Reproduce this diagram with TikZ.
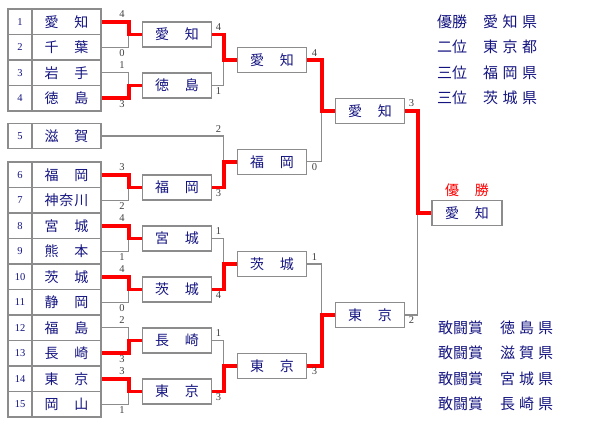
\documentclass[tikz,border=0pt]{standalone}
\usepackage{fontspec}
\setmainfont{Liberation Serif}
\newfontfamily\jp{Noto Sans CJK JP}
\usetikzlibrary{calc,positioning}
\definecolor{navy}{RGB}{20,20,128}
\definecolor{frame}{RGB}{140,140,140}
\newcommand\spread[1]{\makebox[44pt][s]{#1}}

\begin{document}
\begin{tikzpicture}[x=1pt, y=-1pt, line join=miter,
    numcell/.style={draw=frame, line width=1.3pt, minimum width=24pt, minimum height=25.5pt, inner sep=0pt, text=navy, font=\fontsize{10.5}{10.5}\selectfont},
    namecell/.style={draw=frame, line width=1.3pt, minimum width=69pt, minimum height=25.5pt, inner sep=0pt, text=navy, font=\jp\fontsize{14}{14}\selectfont},
    team/.style={namecell, minimum width=68.5pt, minimum height=25pt},
    gline/.style={draw=frame, line width=1.2pt},
    rline/.style={draw=red, line width=3.8pt},
    score/.style={inner sep=0pt, text=black!75, font=\fontsize{10.5}{10.5}\selectfont},
    award/.style={anchor=west, inner sep=0pt, text=navy, font=\jp\fontsize{15}{15}\selectfont}]
    \useasboundingbox (0,0) rectangle (600,440);

    \node[numcell] (n1) at (20,21.75) {1};
    \node[namecell] (t1) at (66.5,21.75) {\spread{愛\hfill 知}};
    \node[numcell] (n2) at (20,47.25) {2};
    \node[namecell] (t2) at (66.5,47.25) {\spread{千\hfill 葉}};
    \node[numcell] (n3) at (20,72.75) {3};
    \node[namecell] (t3) at (66.5,72.75) {\spread{岩\hfill 手}};
    \node[numcell] (n4) at (20,98.25) {4};
    \node[namecell] (t4) at (66.5,98.25) {\spread{徳\hfill 島}};
    \node[numcell] (n5) at (20,136) {5};
    \node[namecell] (t5) at (66.5,136) {\spread{滋\hfill 賀}};
    \node[numcell] (n6) at (20,174.75) {6};
    \node[namecell] (t6) at (66.5,174.75) {\spread{福\hfill 岡}};
    \node[numcell] (n7) at (20,200.25) {7};
    \node[namecell] (t7) at (66.5,200.25) {\spread{神\hfill 奈\hfill 川}};
    \node[numcell] (n8) at (20,225.75) {8};
    \node[namecell] (t8) at (66.5,225.75) {\spread{宮\hfill 城}};
    \node[numcell] (n9) at (20,251.25) {9};
    \node[namecell] (t9) at (66.5,251.25) {\spread{熊\hfill 本}};
    \node[numcell] (n10) at (20,276.75) {10};
    \node[namecell] (t10) at (66.5,276.75) {\spread{茨\hfill 城}};
    \node[numcell] (n11) at (20,302.25) {11};
    \node[namecell] (t11) at (66.5,302.25) {\spread{静\hfill 岡}};
    \node[numcell] (n12) at (20,327.75) {12};
    \node[namecell] (t12) at (66.5,327.75) {\spread{福\hfill 島}};
    \node[numcell] (n13) at (20,353.25) {13};
    \node[namecell] (t13) at (66.5,353.25) {\spread{長\hfill 崎}};
    \node[numcell] (n14) at (20,378.75) {14};
    \node[namecell] (t14) at (66.5,378.75) {\spread{東\hfill 京}};
    \node[numcell] (n15) at (20,404.25) {15};
    \node[namecell] (t15) at (66.5,404.25) {\spread{岡\hfill 山}};

    \node[team] (a1) at (177,34.5) {\spread{愛\hfill 知}};
    \node[team] (a2) at (177,85.5) {\spread{徳\hfill 島}};
    \node[team] (a3) at (177,187.5) {\spread{福\hfill 岡}};
    \node[team] (a4) at (177,238.5) {\spread{宮\hfill 城}};
    \node[team] (a5) at (177,289.5) {\spread{茨\hfill 城}};
    \node[team] (a6) at (177,340.5) {\spread{長\hfill 崎}};
    \node[team] (a7) at (177,391.5) {\spread{東\hfill 京}};
    \node[team] (b1) at (272,60) {\spread{愛\hfill 知}};
    \node[team] (b2) at (272,161.75) {\spread{福\hfill 岡}};
    \node[team] (b3) at (272,264) {\spread{茨\hfill 城}};
    \node[team] (b4) at (272,366) {\spread{東\hfill 京}};
    \node[team] (c1) at (370,110.9) {\spread{愛\hfill 知}};
    \node[team] (c2) at (370,315) {\spread{東\hfill 京}};
    \node[team, minimum width=70pt] (w) at (467,212.9) {\spread{愛\hfill 知}};
    \node[above=2.5pt of w, inner sep=0pt, text=red, font=\jp\fontsize{14}{14}\selectfont] (champ) {\spread{優\hfill 勝}};

    \coordinate (va1) at ([xshift=-13.5pt]a1.west);
    \coordinate (va2) at ([xshift=-13.5pt]a2.west);
    \coordinate (va3) at ([xshift=-13.5pt]a3.west);
    \coordinate (va4) at ([xshift=-13.5pt]a4.west);
    \coordinate (va5) at ([xshift=-13.5pt]a5.west);
    \coordinate (va6) at ([xshift=-13.5pt]a6.west);
    \coordinate (va7) at ([xshift=-13.5pt]a7.west);
    \coordinate (vb1) at ([xshift=-13.5pt]b1.west);
    \coordinate (vb2) at ([xshift=-13.5pt]b2.west);
    \coordinate (vb3) at ([xshift=-13.5pt]b3.west);
    \coordinate (vb4) at ([xshift=-13.5pt]b4.west);
    \coordinate (vc1) at ([xshift=-13.5pt]c1.west);
    \coordinate (vc2) at ([xshift=-13.5pt]c2.west);
    \coordinate (vw) at ([xshift=-13.5pt]w.west);

    \draw[gline] (t1.east) -| (va1) |- (t2.east) (va1) -- (a1.west);
    \draw[rline] (t1.east) -| (va1) -- (a1.west);
    \draw[gline] (t3.east) -| (va2) |- (t4.east) (va2) -- (a2.west);
    \draw[rline] (t4.east) -| (va2) -- (a2.west);
    \draw[gline] (t6.east) -| (va3) |- (t7.east) (va3) -- (a3.west);
    \draw[rline] (t6.east) -| (va3) -- (a3.west);
    \draw[gline] (t8.east) -| (va4) |- (t9.east) (va4) -- (a4.west);
    \draw[rline] (t8.east) -| (va4) -- (a4.west);
    \draw[gline] (t10.east) -| (va5) |- (t11.east) (va5) -- (a5.west);
    \draw[rline] (t10.east) -| (va5) -- (a5.west);
    \draw[gline] (t12.east) -| (va6) |- (t13.east) (va6) -- (a6.west);
    \draw[rline] (t13.east) -| (va6) -- (a6.west);
    \draw[gline] (t14.east) -| (va7) |- (t15.east) (va7) -- (a7.west);
    \draw[rline] (t14.east) -| (va7) -- (a7.west);

    \draw[gline] (a1.east) -| (vb1) |- (a2.east) (vb1) -- (b1.west);
    \draw[rline] (a1.east) -| (vb1) -- (b1.west);
    \draw[gline] (t5.east) -| (vb2) |- (a3.east) (vb2) -- (b2.west);
    \draw[rline] (a3.east) -| (vb2) -- (b2.west);
    \draw[gline] (a4.east) -| (vb3) |- (a5.east) (vb3) -- (b3.west);
    \draw[rline] (a5.east) -| (vb3) -- (b3.west);
    \draw[gline] (a6.east) -| (vb4) |- (a7.east) (vb4) -- (b4.west);
    \draw[rline] (a7.east) -| (vb4) -- (b4.west);

    \draw[gline] (b1.east) -| (vc1) |- (b2.east) (vc1) -- (c1.west);
    \draw[rline] (b1.east) -| (vc1) -- (c1.west);
    \draw[gline] (b3.east) -| (vc2) |- (b4.east) (vc2) -- (c2.west);
    \draw[rline] (b4.east) -| (vc2) -- (c2.west);

    \draw[gline] (c1.east) -| (vw) |- (c2.east) (vw) -- (w.west);
    \draw[rline] (c1.east) -| (vw) -- (w.west);

    \node[score] (s1) at (122,14.25) {4};
    \node[score] (s2) at (122,53) {0};
    \node[score] (s3) at (122,65.5) {1};
    \node[score] (s4) at (122,104.5) {3};
    \node[score] (s6) at (122,167.25) {3};
    \node[score] (s7) at (122,206) {2};
    \node[score] (s8) at (122,218.25) {4};
    \node[score] (s9) at (122,257) {1};
    \node[score] (s10) at (122,269.25) {4};
    \node[score] (s11) at (122,308) {0};
    \node[score] (s12) at (122,320.5) {2};
    \node[score] (s13) at (122,359.5) {3};
    \node[score] (s14) at (122,371.25) {3};
    \node[score] (s15) at (122,410) {1};

    \node[score] (sa1) at (218.5,27.5) {4};
    \node[score] (sa2) at (218.5,91) {1};
    \node[score] (sa5) at (218.5,129) {2};
    \node[score] (sa3) at (218.5,193) {3};
    \node[score] (sa4) at (218.5,231.5) {1};
    \node[score] (sa55) at (218.5,295) {4};
    \node[score] (sa6) at (218.5,333.5) {1};
    \node[score] (sa7) at (218.5,397) {3};

    \node[score] (sb1) at (314.5,53) {4};
    \node[score] (sb2) at (314.5,167) {0};
    \node[score] (sb3) at (314.5,257) {1};
    \node[score] (sb4) at (314.5,371.5) {3};

    \node[score] (sc1) at (411.5,103.5) {3};
    \node[score] (sc2) at (411.5,320.5) {2};

    \node[award] (p1) at (437,21.75) {優勝};
    \node[award] (q1) at (483,21.75) {愛\hspace{4.5pt}知\hspace{4.5pt}県};
    \node[award] (p2) at (437,47.25) {二位};
    \node[award] (q2) at (483,47.25) {東\hspace{4.5pt}京\hspace{4.5pt}都};
    \node[award] (p3) at (437,72.75) {三位};
    \node[award] (q3) at (483,72.75) {福\hspace{4.5pt}岡\hspace{4.5pt}県};
    \node[award] (p4) at (437,98.25) {三位};
    \node[award] (q4) at (483,98.25) {茨\hspace{4.5pt}城\hspace{4.5pt}県};
    \node[award] (k1) at (438,327.75) {敢闘賞};
    \node[award] (m1) at (500,327.75) {徳\hspace{4pt}島\hspace{4pt}県};
    \node[award] (k2) at (438,353.25) {敢闘賞};
    \node[award] (m2) at (500,353.25) {滋\hspace{4pt}賀\hspace{4pt}県};
    \node[award] (k3) at (438,378.75) {敢闘賞};
    \node[award] (m3) at (500,378.75) {宮\hspace{4pt}城\hspace{4pt}県};
    \node[award] (k4) at (438,404.25) {敢闘賞};
    \node[award] (m4) at (500,404.25) {長\hspace{4pt}崎\hspace{4pt}県};
\end{tikzpicture}
\end{document}
